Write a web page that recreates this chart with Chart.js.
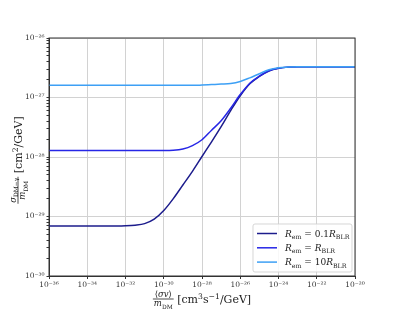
<!DOCTYPE html>
<html>
<head>
<meta charset="utf-8">
<script src="https://cdn.jsdelivr.net/npm/chart.js@4.4.0/dist/chart.umd.min.js"></script>
<style>
  body { margin: 0; background: #fff; }
  #wrap { width: 395px; height: 316px; }
</style>
</head>
<body>
<div id="wrap"><canvas id="c" width="395" height="316"></canvas></div>
<script>
// <σv>/m_DM values (cm^3 s^-1 / GeV)
const xValues = [1e-36, 1e-35, 1e-34, 1e-33, 1e-32, 3.16e-32, 1e-31, 3.16e-31, 1e-30, 3.16e-30,
  1e-29, 3.16e-29, 1e-28, 3.16e-28, 1e-27, 3.16e-27, 1e-26, 3.16e-26, 1e-25, 3.16e-25,
  1e-24, 3.16e-24, 1e-23, 3.16e-23, 1e-22, 1e-21, 1e-20];

// sigma_DM-gamma / m_DM (cm^2/GeV)
const sigmaR01 = [6.92e-30, 6.92e-30, 6.92e-30, 6.92e-30, 7.00e-30, 7.16e-30, 7.59e-30, 9.02e-30, 1.26e-29, 2.00e-29,
  3.39e-29, 5.75e-29, 1.02e-28, 1.80e-28, 3.24e-28, 6.03e-28, 1.07e-27, 1.70e-27, 2.26e-27, 2.79e-27,
  3.09e-27, 3.24e-27, 3.29e-27, 3.29e-27, 3.29e-27, 3.29e-27, 3.29e-27];
const sigmaR1 = [1.29e-28, 1.29e-28, 1.29e-28, 1.29e-28, 1.29e-28, 1.29e-28, 1.29e-28, 1.29e-28, 1.29e-28, 1.30e-28,
  1.36e-28, 1.55e-28, 1.95e-28, 2.82e-28, 4.07e-28, 6.61e-28, 1.12e-27, 1.74e-27, 2.29e-27, 2.82e-27,
  3.09e-27, 3.24e-27, 3.29e-27, 3.29e-27, 3.29e-27, 3.29e-27, 3.29e-27];
const sigmaR10 = [1.60e-27, 1.60e-27, 1.60e-27, 1.60e-27, 1.60e-27, 1.60e-27, 1.60e-27, 1.60e-27, 1.60e-27, 1.60e-27,
  1.60e-27, 1.60e-27, 1.62e-27, 1.65e-27, 1.68e-27, 1.72e-27, 1.86e-27, 2.14e-27, 2.51e-27, 2.92e-27,
  3.16e-27, 3.25e-27, 3.29e-27, 3.29e-27, 3.29e-27, 3.29e-27, 3.29e-27];

// legend prefactors for R_em = ... R_BLR
const radiusFactors = ['0.1', '', '10'];
const lineColors = ['#1c1c8c', '#2626e6', '#3da0f5'];

// tick exponents
const xTickExps = [-36, -34, -32, -30, -28, -26, -24, -22, -20];
const yTickExps = [-30, -29, -28, -27, -26];

const FONT = '"DejaVu Serif", "Liberation Serif", serif';
const SUP = { '-': '⁻', '0': '⁰', '1': '¹', '2': '²', '3': '³', '4': '⁴', '5': '⁵', '6': '⁶', '7': '⁷', '8': '⁸', '9': '⁹' };
const sup = n => String(n).split('').map(ch => SUP[ch]).join('');
const isDecade = v => Math.abs(Math.log10(v) - Math.round(Math.log10(v))) < 1e-6;

// rich text: segments [text, flags]  flags: i=italic, b=subscript, p=superscript
function rich(ctx, segs, x, y, size, draw) {
  let cx = x;
  for (const [t, k] of segs) {
    const small = k.includes('b') || k.includes('p');
    const s = small ? size * 0.7 : size;
    ctx.font = (k.includes('i') ? 'italic ' : '') + s.toFixed(1) + 'px ' + FONT;
    const dy = k.includes('b') ? size * 0.28 : (k.includes('p') ? -size * 0.38 : 0);
    if (draw) ctx.fillText(t, cx, y + dy);
    cx += ctx.measureText(t).width;
  }
  return cx - x;
}

function frac(ctx, num, den, x, cy, size, draw) {
  const wn = rich(ctx, num, 0, 0, size, false);
  const wd = rich(ctx, den, 0, 0, size, false);
  const w = Math.max(wn, wd) + 2;
  if (draw) {
    rich(ctx, num, x + (w - wn) / 2, cy - 2.2, size, true);
    rich(ctx, den, x + (w - wd) / 2, cy + size * 0.85, size, true);
    ctx.fillRect(x, cy - 0.4, w, 0.8);
  }
  return w;
}

const decorPlugin = {
  id: 'decor',
  afterDatasetsDraw(chart) {
    const ctx = chart.ctx;
    const a = chart.chartArea;
    ctx.save();
    // frame
    ctx.strokeStyle = '#333';
    ctx.lineWidth = 1;
    ctx.strokeRect(a.left, a.top, a.right - a.left, a.bottom - a.top);

    // legend box
    const lx = 253, ly = 224, lw = 99, lh = 48;
    ctx.fillStyle = 'rgba(255,255,255,0.85)';
    ctx.strokeStyle = 'rgba(210,210,210,0.9)';
    ctx.beginPath();
    ctx.roundRect(lx, ly, lw, lh, 2);
    ctx.fill();
    ctx.stroke();
    ctx.textBaseline = 'alphabetic';
    radiusFactors.forEach((f, i) => {
      const yy = ly + 9.5 + i * 14.3;
      ctx.strokeStyle = lineColors[i];
      ctx.lineWidth = 1.5;
      ctx.beginPath();
      ctx.moveTo(lx + 4, yy);
      ctx.lineTo(lx + 24, yy);
      ctx.stroke();
      ctx.fillStyle = '#222';
      rich(ctx, [['R', 'i'], ['em', 'b'], [' = ' + f, ''], ['R', 'i'], ['BLR', 'b']], lx + 32, yy + 3, 9, true);
    });

    // x title
    ctx.fillStyle = '#222';
    const xNum = [['⟨', ''], ['σv', 'i'], ['⟩', '']];
    const xDen = [['m', 'i'], ['DM', 'b']];
    const xRest = [[' [cm', ''], ['3', 'p'], ['s', ''], ['−1', 'p'], ['/GeV]', '']];
    const fw = frac(ctx, xNum, xDen, 0, 0, 8.5, false);
    const rw = rich(ctx, xRest, 0, 0, 11, false);
    const sx = (a.left + a.right) / 2 - (fw + rw) / 2;
    frac(ctx, xNum, xDen, sx, 299, 8.5, true);
    rich(ctx, xRest, sx + fw, 303, 11, true);

    // y title (rotated)
    ctx.translate(21, (a.top + a.bottom) / 2 + 3);
    ctx.rotate(-Math.PI / 2);
    const yNum = [['σ', 'i'], ['DM−γ', 'b']];
    const yDen = [['m', 'i'], ['DM', 'b']];
    const yRest = [[' [cm', ''], ['2', 'p'], ['/GeV]', '']];
    const fw2 = frac(ctx, yNum, yDen, 0, 0, 8.5, false);
    const rw2 = rich(ctx, yRest, 0, 0, 11, false);
    const s2 = -(fw2 + rw2) / 2;
    frac(ctx, yNum, yDen, s2, -3, 8.5, true);
    rich(ctx, yRest, s2 + fw2, 1, 11, true);
    ctx.restore();
  }
};

const seriesList = [sigmaR01, sigmaR1, sigmaR10];
const datasets = seriesList.map((s, i) => ({
  label: 'R_em = ' + radiusFactors[i] + 'R_BLR',
  data: xValues.map((x, j) => ({ x: x, y: s[j] })),
  borderColor: lineColors[i],
  borderWidth: 1.5,
  pointRadius: 0,
  cubicInterpolationMode: 'monotone',
  fill: false,
  order: 3 - i
}));

new Chart(document.getElementById('c'), {
  type: 'line',
  data: { datasets: datasets },
  options: {
    responsive: false,
    animation: false,
    events: [],
    layout: { padding: { top: 38, right: 40, left: 0, bottom: 0 } },
    plugins: { legend: { display: false }, tooltip: { enabled: false } },
    scales: {
      x: {
        type: 'logarithmic',
        min: 1e-36,
        max: 1e-20,
        afterBuildTicks: scale => { scale.ticks = xTickExps.map(e => ({ value: Math.pow(10, e), major: true })); },
        afterFit: scale => { scale.height = 40; },
        grid: { color: '#d2d2d2', lineWidth: 1, tickLength: 3, tickColor: '#333' },
        border: { color: '#333', width: 1 },
        ticks: {
          autoSkip: false,
          maxRotation: 0,
          padding: 2,
          color: '#333',
          font: { family: FONT, size: 7.5 },
          callback: v => '10' + sup(Math.round(Math.log10(v)))
        }
      },
      y: {
        type: 'logarithmic',
        min: 1e-30,
        max: 1e-26,
        afterBuildTicks: scale => {
          const t = [];
          for (let k = 0; k < yTickExps.length; k++) {
            const base = Math.pow(10, yTickExps[k]);
            t.push({ value: base, major: true });
            if (k < yTickExps.length - 1) {
              for (let m = 2; m <= 9; m++) t.push({ value: m * base, major: false });
            }
          }
          scale.ticks = t;
        },
        afterFit: scale => { scale.width = 49; },
        grid: {
          color: c => (c.tick && c.tick.major ? '#d2d2d2' : 'rgba(0,0,0,0)'),
          lineWidth: 1,
          tickLength: 2.5,
          tickColor: '#333'
        },
        border: { color: '#333', width: 1 },
        ticks: {
          autoSkip: false,
          padding: 2,
          color: '#333',
          font: { family: FONT, size: 7.5 },
          callback: v => (isDecade(v) ? '10' + sup(Math.round(Math.log10(v))) : '')
        }
      }
    }
  },
  plugins: [decorPlugin]
});
</script>
</body>
</html>
